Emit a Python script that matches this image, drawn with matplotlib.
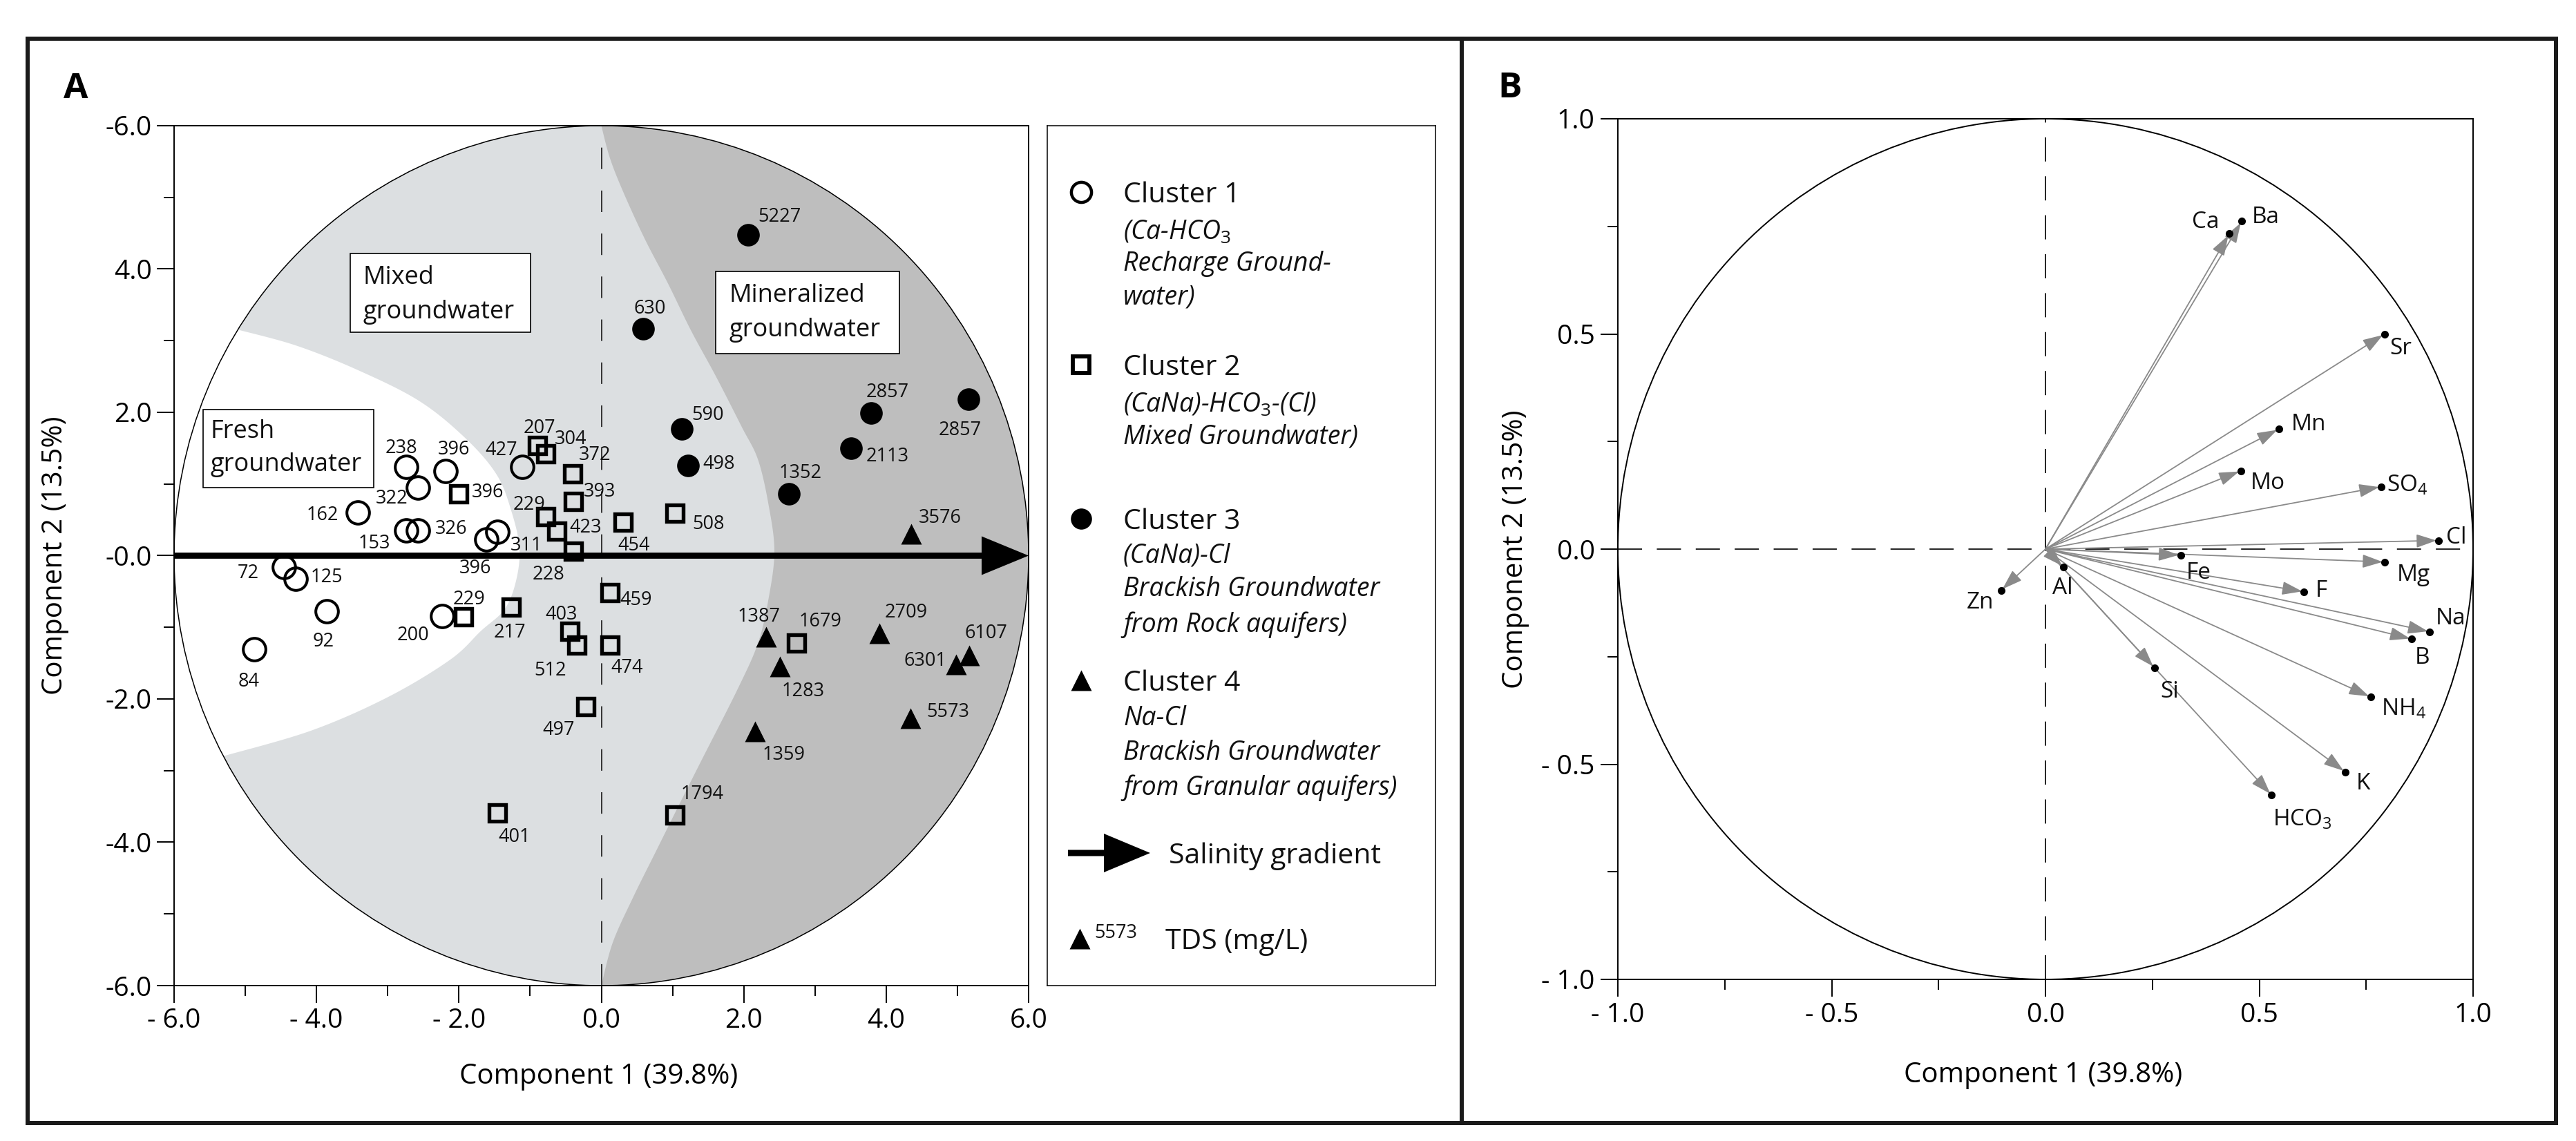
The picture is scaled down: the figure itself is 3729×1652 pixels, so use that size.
import numpy as np
import matplotlib
matplotlib.use('Agg')
import matplotlib.pyplot as plt
from matplotlib.patches import Circle, Rectangle, Polygon
from matplotlib.lines import Line2D

plt.rcParams['font.family'] = ['Open Sans', 'DejaVu Sans']
plt.rcParams['mathtext.fontset'] = 'custom'
plt.rcParams['mathtext.rm'] = 'Open Sans'
plt.rcParams['mathtext.it'] = 'Open Sans:italic'
plt.rcParams['mathtext.bf'] = 'Open Sans:bold'

# ---- panel A: PCA scores, labelled with TDS (mg/L) ----
c1_x = [-2.74, -2.19, -1.11, -2.58, -3.42, -2.74, -2.58, -1.62, -1.46, -4.46, -4.29, -3.86, -4.87, -2.24]
c1_y = [1.24, 1.18, 1.24, 0.95, 0.60, 0.35, 0.35, 0.23, 0.33, -0.16, -0.32, -0.78, -1.31, -0.84]
c1_tds = [238, 396, 427, 322, 162, 153, 326, 396, 311, 72, 125, 92, 84, 200]

c2_x = [-0.90, -0.78, -0.40, -2.00, -0.39, -0.78, -0.63, 0.31, -0.39, 1.03,
        0.12, -1.94, -1.27, -0.44, -0.34, 0.12, -0.22, -1.46, 1.03, 2.74]
c2_y = [1.54, 1.42, 1.14, 0.86, 0.76, 0.54, 0.34, 0.47, 0.06, 0.59,
        -0.52, -0.85, -0.72, -1.06, -1.25, -1.25, -2.11, -3.59, -3.62, -1.22]
c2_tds = [207, 304, 372, 396, 393, 229, 423, 454, 228, 508,
          459, 229, 217, 403, 512, 474, 497, 401, 1794, 1679]

c3_x = [2.06, 0.59, 1.13, 1.22, 3.79, 5.16, 3.51, 2.63]
c3_y = [4.48, 3.17, 1.77, 1.26, 1.99, 2.18, 1.50, 0.86]
c3_tds = [5227, 630, 590, 498, 2857, 2857, 2113, 1352]

c4_x = [4.35, 2.31, 2.51, 3.90, 2.16, 5.17, 4.98, 4.34]
c4_y = [0.30, -1.13, -1.55, -1.08, -2.45, -1.39, -1.52, -2.27]
c4_tds = [3576, 1387, 1283, 2709, 1359, 6107, 6301, 5573]

# ---- panel B: variable loadings ----
var_names = ['Ca', 'Ba', 'Sr', 'Mn', 'Mo', 'SO$_4$', 'Cl', 'Fe', 'Mg', 'Al',
             'Zn', 'F', 'Na', 'B', 'Si', 'NH$_4$', 'K', 'HCO$_3$']
load_x = [0.430, 0.459, 0.793, 0.546, 0.457, 0.785, 0.919, 0.316, 0.793, 0.042,
          -0.104, 0.605, 0.899, 0.857, 0.255, 0.761, 0.701, 0.529]
load_y = [0.733, 0.762, 0.500, 0.279, 0.182, 0.145, 0.020, -0.014, -0.030, -0.042,
          -0.096, -0.099, -0.192, -0.209, -0.276, -0.344, -0.518, -0.572]

# label offsets in points (layout only)
c1_off = [(-5, 22), (9, 25), (-22, 20), (-27, -9), (-37, 0), (-33, -11), (35, 4),
          (-11, -28), (30, -12), (-37, -4), (32, 4), (-3, -29), (-6, -31), (-30, -18)]
c2_off = [(2, 20), (26, 18), (23, 22), (30, 4), (27, 12), (-17, 15), (30, 6), (11, -22),
          (-26, -22), (35, -9), (27, -5), (6, 20), (-1, -24), (-9, 20), (-28, -24),
          (18, -21), (-28, -22), (18, -23), (29, 24), (25, 25)]
c3_off = [(33, 21), (7, 23), (27, 17), (32, 4), (17, 24), (-9, -30), (38, -6), (12, 24)]
c4_off = [(30, 19), (-7, 23), (24, -23), (28, 24), (30, -22), (17, 25), (-32, 6), (39, 9)]
var_off = [(-25, 15), (25, 7), (17, -12), (31, 8), (28, -10), (27, 4), (19, 6), (19, -16),
           (30, -11), (-1, -19), (-22, -10), (18, 4), (22, 17), (11, -17), (16, -22),
           (34, -10), (19, -9), (32, -23)]

# outlines of the water-type zones (shape only)
fresh_edge = [(-5.09, 3.15), (-4.28, 2.93), (-3.42, 2.59), (-2.56, 2.16), (-1.91, 1.64),
              (-1.47, 1.13), (-1.26, 0.61), (-1.15, 0.10), (-1.20, -0.36), (-1.36, -0.75),
              (-1.69, -1.05), (-2.12, -1.45), (-2.99, -1.97), (-4.07, -2.44), (-5.28, -2.79)]
mineral_edge = [(0.0, 6.0), (0.12, 5.55), (0.31, 5.07), (0.61, 4.42), (0.94, 3.79), (1.26, 3.14),
                (1.61, 2.50), (1.97, 1.80), (2.20, 1.34), (2.35, 0.70), (2.43, 0.06), (2.35, -0.59),
                (2.20, -1.22), (1.91, -1.87), (1.42, -2.83), (1.09, -3.48), (0.77, -4.12),
                (0.45, -4.76), (0.16, -5.40), (0.0, -6.0)]

LIGHT = '#dcdfe1'
DARK = '#bebebe'
W, H = 3729, 1652


def smooth(pts, n=24):
    p = np.asarray(pts, float)
    p = np.vstack([p[0], p, p[-1]])
    out = []
    t = np.linspace(0, 1, n, endpoint=False)[:, None]
    for i in range(1, len(p) - 2):
        p0, p1, p2, p3 = p[i - 1], p[i], p[i + 1], p[i + 2]
        out.append(0.5 * (2 * p1 + (-p0 + p2) * t + (2 * p0 - 5 * p1 + 4 * p2 - p3) * t ** 2
                          + (-p0 + 3 * p1 - 3 * p2 + p3) * t ** 3))
    out.append(p[-2][None])
    return np.vstack(out)


def arc(r, a0, a1, n=200):
    a = np.radians(np.linspace(a0, a1, n))
    return np.column_stack([r * np.cos(a), r * np.sin(a)])


def px_axes(l, r, t, b):
    return [l / W, 1 - b / H, (r - l) / W, (b - t) / H]


fig = plt.figure(figsize=(W / 100, H / 100), dpi=100)

# ================= panel A =================
ax = fig.add_axes(px_axes(252, 1489, 182, 1427))
ax.set_xlim(-6, 6)
ax.set_ylim(-6, 6)

ax.add_patch(Circle((0, 0), 6, facecolor=LIGHT, edgecolor='none', zorder=0))
fe = smooth(fresh_edge)
a_top = np.degrees(np.arctan2(fe[0, 1], fe[0, 0]))
a_bot = np.degrees(np.arctan2(fe[-1, 1], fe[-1, 0])) % 360
ax.add_patch(Polygon(np.vstack([fe, arc(6, a_bot, a_top)]), closed=True,
                     facecolor='white', edgecolor='none', zorder=0.5))
me = smooth(mineral_edge)
ax.add_patch(Polygon(np.vstack([me, arc(6, -90, 90)]), closed=True,
                     facecolor=DARK, edgecolor='none', zorder=0.5))
ax.add_patch(Circle((0, 0), 6, facecolor='none', edgecolor='black', lw=1.1, zorder=1))

ax.plot([0, 0], [-6, 6], color='#333333', lw=1.4, ls=(0, (16, 16)), zorder=1.2)
ax.arrow(-6, 0, 12, 0, width=0.085, head_width=0.54, head_length=0.66,
         length_includes_head=True, fc='black', ec='none', zorder=2)

ax.plot(c1_x, c1_y, 'o', ms=23.5, mfc='none', mec='black', mew=2.9, zorder=3)
ax.plot(c2_x, c2_y, 's', ms=17, mfc='none', mec='black', mew=3.9, zorder=3)
ax.plot(c3_x, c3_y, 'o', ms=23.5, mfc='black', mec='none', zorder=3)
ax.plot(c4_x, c4_y, '^', ms=22, mfc='black', mec='none', zorder=3)

for xs, ys, labs, offs in [(c1_x, c1_y, c1_tds, c1_off), (c2_x, c2_y, c2_tds, c2_off),
                           (c3_x, c3_y, c3_tds, c3_off), (c4_x, c4_y, c4_tds, c4_off)]:
    for x, y, lab, off in zip(xs, ys, labs, offs):
        ax.annotate(str(lab), (x, y), xytext=off, textcoords='offset points',
                    ha='center', va='center_baseline', fontsize=19.5, color='#111111', zorder=4)

zone_boxes = [((-5.59, 0.95, 2.39, 1.09), ['Fresh', 'groundwater'], -5.49, [1.64, 1.18]),
              ((-3.53, 3.12, 2.54, 1.10), ['Mixed', 'groundwater'], -3.35, [3.79, 3.31]),
              ((1.61, 2.82, 2.58, 1.15), ['Mineralized', 'groundwater'], 1.79, [3.54, 3.06])]
for (x0, y0, w, h), lines, tx, tys in zone_boxes:
    ax.add_patch(Rectangle((x0, y0), w, h, facecolor='white', edgecolor='black', lw=1.2, zorder=4))
    for line, ty in zip(lines, tys):
        ax.text(tx, ty, line, fontsize=26, va='baseline', ha='left', color='#111111', zorder=5)

ax.set_xticks([-6, -4, -2, 0, 2, 4, 6])
ax.set_xticklabels(['- 6.0', '- 4.0', '- 2.0', '0.0', '2.0', '4.0', '6.0'])
ax.set_xticks([-5, -3, -1, 1, 3, 5], minor=True)
ax.set_yticks([-6, -4, -2, 0, 2, 4, 6])
ax.set_yticklabels(['-6.0', '-4.0', '-2.0', '-0.0', '2.0', '4.0', '-6.0'])
ax.set_yticks([-5, -3, -1, 1, 3, 5], minor=True)
ax.tick_params(which='major', direction='out', length=18, width=1.4, labelsize=28, pad=5)
ax.tick_params(which='minor', direction='out', length=11, width=1.4)
for s in ax.spines.values():
    s.set_linewidth(1.4)
ax.set_xlabel('Component 1 (39.8%)', fontsize=29, va='center')
ax.xaxis.set_label_coords(0.497, -0.106)
ax.set_ylabel('Component 2 (13.5%)', fontsize=29, va='center')
ax.yaxis.set_label_coords(-0.139, 0.5)

# ================= legend box =================
lg = fig.add_axes(px_axes(1516, 2078, 182, 1427))
lg.set_xlim(0, 562)
lg.set_ylim(0, 1245)
lg.set_xticks([])
lg.set_yticks([])
for s in lg.spines.values():
    s.set_linewidth(1.1)

mx, tx = 49, 110
lg.plot(mx, 1149, 'o', ms=21, mfc='none', mec='black', mew=3.2)
lg.plot(mx, 899, 's', ms=17, mfc='none', mec='black', mew=4.2)
lg.plot(mx, 676, 'o', ms=22, mfc='black', mec='none')
lg.plot(mx, 442, '^', ms=22, mfc='black', mec='none')

legend_rows = [(1149, 'Cluster 1', False), (1095, '(Ca-HCO$_3$', True),
               (1049, 'Recharge Ground-', True), (1001, 'water)', True),
               (899, 'Cluster 2', False), (845, '(CaNa)-HCO$_3$-(Cl)', True),
               (799, 'Mixed Groundwater)', True),
               (676, 'Cluster 3', False), (627, '(CaNa)-Cl', True),
               (578, 'Brackish Groundwater', True), (527, 'from Rock aquifers)', True),
               (442, 'Cluster 4', False), (391, 'Na-Cl', True),
               (341, 'Brackish Groundwater', True), (291, 'from Granular aquifers)', True)]
for y, txt, it in legend_rows:
    lg.text(tx, y, txt, fontsize=27 if it else 29.5, style='italic' if it else 'normal',
            va='center_baseline', ha='left', color='#111111')

lg.arrow(30, 192, 119, 0, width=9, head_width=56, head_length=67,
         length_includes_head=True, fc='black', ec='none')
lg.text(176, 192, 'Salinity gradient', fontsize=29.5, va='center_baseline', ha='left', color='#111111')
lg.plot(47, 68, '^', ms=22, mfc='black', mec='none')
lg.text(68, 79, '5573', fontsize=19.5, va='center_baseline', ha='left', color='#111111')
lg.text(171, 68, 'TDS (mg/L)', fontsize=29.5, va='center_baseline', ha='left', color='#111111')

# ================= panel B =================
bx = fig.add_axes(px_axes(2342, 3580, 172, 1418))
bx.set_xlim(-1, 1)
bx.set_ylim(-1, 1)
bx.add_patch(Circle((0, 0), 1, facecolor='none', edgecolor='black', lw=1.4, zorder=1))
bx.plot([0, 0], [-1, 1], color='#222222', lw=1.4, ls=(0, (18, 11)), zorder=1)
bx.plot([-1, 1], [0, 0], color='#222222', lw=1.4, ls=(0, (18, 11)), zorder=1)

for x, y in zip(load_x, load_y):
    bx.annotate('', xy=(x, y), xytext=(0, 0),
                arrowprops=dict(arrowstyle='-|>,head_length=0.9,head_width=0.3',
                                color='#8a8a8a', lw=1.3, shrinkA=0, shrinkB=2,
                                mutation_scale=20), zorder=2)
bx.plot(load_x, load_y, 'o', ms=7, color='black', zorder=3)
for x, y, name, off in zip(load_x, load_y, var_names, var_off):
    bx.annotate(name, (x, y), xytext=off, textcoords='offset points',
                ha='center', va='center_baseline', fontsize=24, color='#111111', zorder=4)

bx.set_xticks([-1, -0.5, 0, 0.5, 1])
bx.set_xticklabels(['- 1.0', '- 0.5', '0.0', '0.5', '1.0'])
bx.set_xticks([-0.75, -0.25, 0.25, 0.75], minor=True)
bx.set_yticks([-1, -0.5, 0, 0.5, 1])
bx.set_yticklabels(['- 1.0', '- 0.5', '0.0', '0.5', '1.0'])
bx.set_yticks([-0.75, -0.25, 0.25, 0.75], minor=True)
bx.tick_params(which='major', direction='out', length=18, width=1.4, labelsize=28, pad=6)
bx.tick_params(which='minor', direction='out', length=11, width=1.4)
for s in bx.spines.values():
    s.set_linewidth(1.4)
bx.set_xlabel('Component 1 (39.8%)', fontsize=29, va='center')
bx.xaxis.set_label_coords(0.497, -0.111)
bx.set_ylabel('Component 2 (13.5%)', fontsize=29, va='center')
bx.yaxis.set_label_coords(-0.120, 0.5)

# ================= frame and panel letters =================
fig.add_artist(Rectangle((40 / W, 1 - 1626 / H), (3700 - 40) / W, (1626 - 56) / H,
                         transform=fig.transFigure, fill=False, edgecolor='#1a1a1a', lw=4.3))
fig.add_artist(Line2D([2116 / W, 2116 / W], [1 - 1626 / H, 1 - 56 / H],
                      transform=fig.transFigure, color='#1a1a1a', lw=4.3))
fig.text(110 / W, 1 - 129 / H, 'A', fontsize=37, fontweight='bold', ha='center', va='center')
fig.text(2186 / W, 1 - 128 / H, 'B', fontsize=37, fontweight='bold', ha='center', va='center')

fig.savefig('out.png', dpi=100)
